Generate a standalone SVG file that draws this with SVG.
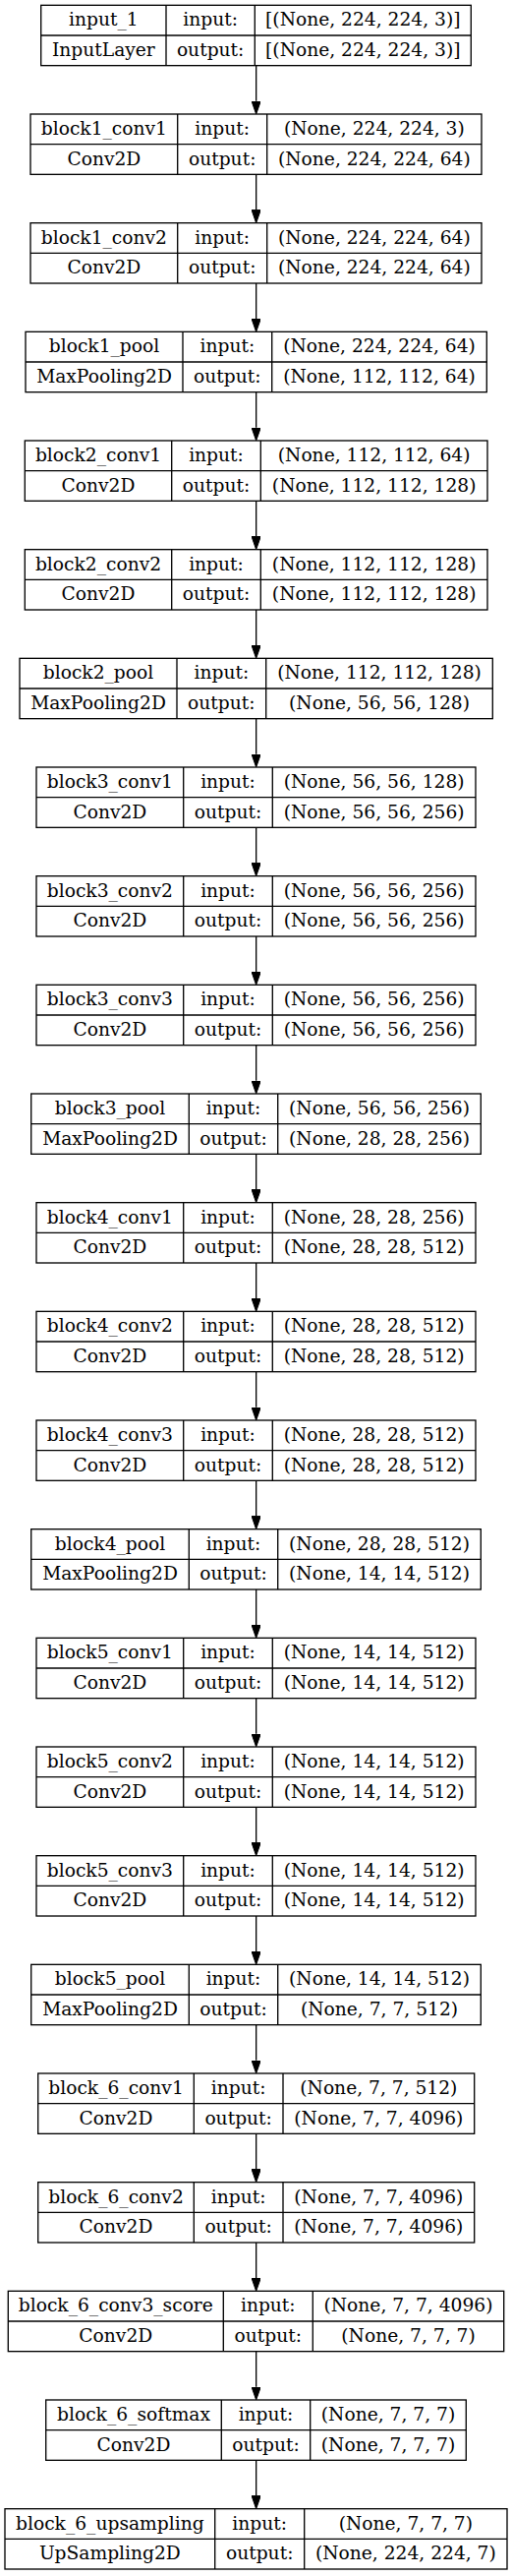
<svg xmlns="http://www.w3.org/2000/svg" width="521" height="2619" viewBox="0 0 521 2619">
<style>
.box{fill:#fff;stroke:#000;stroke-width:1.33}
.div{fill:none;stroke:#000;stroke-width:1.33}
.t{font-family:"DejaVu Serif",serif;font-size:18.67px;text-anchor:middle;fill:#000}
.edge{stroke:#000;stroke-width:1.33;fill:none}
</style>
<defs>
<marker id="ah" viewBox="0 0 13.33 9.33" refX="0" refY="4.67" markerWidth="13.33" markerHeight="9.33" markerUnits="userSpaceOnUse" orient="auto">
<path d="M0,0 L13.33,4.67 L0,9.33 z" fill="#000" stroke="#000" stroke-width="1"/>
</marker>
</defs>
<rect x="0" y="0" width="521" height="2619" fill="#fff"/>
<g id="connectors">
<line class="edge" x1="260.67" y1="66.67" x2="260.67" y2="102.67" marker-end="url(#ah)"/>
<line class="edge" x1="260.67" y1="177.33" x2="260.67" y2="213.33" marker-end="url(#ah)"/>
<line class="edge" x1="260.67" y1="288" x2="260.67" y2="324" marker-end="url(#ah)"/>
<line class="edge" x1="260.67" y1="398.67" x2="260.67" y2="434.67" marker-end="url(#ah)"/>
<line class="edge" x1="260.67" y1="509.33" x2="260.67" y2="545.33" marker-end="url(#ah)"/>
<line class="edge" x1="260.67" y1="620" x2="260.67" y2="656" marker-end="url(#ah)"/>
<line class="edge" x1="260.67" y1="730.67" x2="260.67" y2="766.67" marker-end="url(#ah)"/>
<line class="edge" x1="260.67" y1="841.33" x2="260.67" y2="877.33" marker-end="url(#ah)"/>
<line class="edge" x1="260.67" y1="952" x2="260.67" y2="988" marker-end="url(#ah)"/>
<line class="edge" x1="260.67" y1="1062.67" x2="260.67" y2="1098.67" marker-end="url(#ah)"/>
<line class="edge" x1="260.67" y1="1173.33" x2="260.67" y2="1209.33" marker-end="url(#ah)"/>
<line class="edge" x1="260.67" y1="1284" x2="260.67" y2="1320" marker-end="url(#ah)"/>
<line class="edge" x1="260.67" y1="1394.67" x2="260.67" y2="1430.67" marker-end="url(#ah)"/>
<line class="edge" x1="260.67" y1="1505.33" x2="260.67" y2="1541.33" marker-end="url(#ah)"/>
<line class="edge" x1="260.67" y1="1616" x2="260.67" y2="1652" marker-end="url(#ah)"/>
<line class="edge" x1="260.67" y1="1726.67" x2="260.67" y2="1762.67" marker-end="url(#ah)"/>
<line class="edge" x1="260.67" y1="1837.33" x2="260.67" y2="1873.33" marker-end="url(#ah)"/>
<line class="edge" x1="260.67" y1="1948" x2="260.67" y2="1984" marker-end="url(#ah)"/>
<line class="edge" x1="260.67" y1="2058.67" x2="260.67" y2="2094.67" marker-end="url(#ah)"/>
<line class="edge" x1="260.67" y1="2169.33" x2="260.67" y2="2205.33" marker-end="url(#ah)"/>
<line class="edge" x1="260.67" y1="2280" x2="260.67" y2="2316" marker-end="url(#ah)"/>
<line class="edge" x1="260.67" y1="2390.67" x2="260.67" y2="2426.67" marker-end="url(#ah)"/>
<line class="edge" x1="260.67" y1="2501.33" x2="260.67" y2="2537.33" marker-end="url(#ah)"/>
</g>

<g id="input_1" transform="translate(0,5.33)">
<rect class="box" x="41.7" y="0" width="437.6" height="61.33"/>
<path class="div" d="M169,0V61.33M259.3,0V61.33M41.7,30.67H479.3"/>
<text class="t" x="105.35" y="21">input_1</text><text class="t" x="214.15" y="21">input:</text><text class="t" x="369.3" y="21">[(None, 224, 224, 3)]</text>
<text class="t" x="105.35" y="51.67">InputLayer</text><text class="t" x="214.15" y="51.67">output:</text><text class="t" x="369.3" y="51.67">[(None, 224, 224, 3)]</text>
</g>

<g id="block1_conv1" transform="translate(0,116)">
<rect class="box" x="31" y="0" width="459" height="61.33"/>
<path class="div" d="M180.7,0V61.33M271.7,0V61.33M31,30.67H490"/>
<text class="t" x="105.85" y="21">block1_conv1</text><text class="t" x="226.2" y="21">input:</text><text class="t" x="380.85" y="21">(None, 224, 224, 3)</text>
<text class="t" x="105.85" y="51.67">Conv2D</text><text class="t" x="226.2" y="51.67">output:</text><text class="t" x="380.85" y="51.67">(None, 224, 224, 64)</text>
</g>

<g id="block1_conv2" transform="translate(0,226.67)">
<rect class="box" x="31" y="0" width="459" height="61.33"/>
<path class="div" d="M180.7,0V61.33M271.7,0V61.33M31,30.67H490"/>
<text class="t" x="105.85" y="21">block1_conv2</text><text class="t" x="226.2" y="21">input:</text><text class="t" x="380.85" y="21">(None, 224, 224, 64)</text>
<text class="t" x="105.85" y="51.67">Conv2D</text><text class="t" x="226.2" y="51.67">output:</text><text class="t" x="380.85" y="51.67">(None, 224, 224, 64)</text>
</g>

<g id="block1_pool" transform="translate(0,337.33)">
<rect class="box" x="26" y="0" width="469.3" height="61.33"/>
<path class="div" d="M186,0V61.33M276.7,0V61.33M26,30.67H495.3"/>
<text class="t" x="106" y="21">block1_pool</text><text class="t" x="231.35" y="21">input:</text><text class="t" x="386" y="21">(None, 224, 224, 64)</text>
<text class="t" x="106" y="51.67">MaxPooling2D</text><text class="t" x="231.35" y="51.67">output:</text><text class="t" x="386" y="51.67">(None, 112, 112, 64)</text>
</g>

<g id="block2_conv1" transform="translate(0,448)">
<rect class="box" x="25.3" y="0" width="470.7" height="61.33"/>
<path class="div" d="M174.7,0V61.33M265.3,0V61.33M25.3,30.67H496"/>
<text class="t" x="100" y="21">block2_conv1</text><text class="t" x="220" y="21">input:</text><text class="t" x="380.65" y="21">(None, 112, 112, 64)</text>
<text class="t" x="100" y="51.67">Conv2D</text><text class="t" x="220" y="51.67">output:</text><text class="t" x="380.65" y="51.67">(None, 112, 112, 128)</text>
</g>

<g id="block2_conv2" transform="translate(0,558.67)">
<rect class="box" x="25.3" y="0" width="470.7" height="61.33"/>
<path class="div" d="M174.7,0V61.33M265.3,0V61.33M25.3,30.67H496"/>
<text class="t" x="100" y="21">block2_conv2</text><text class="t" x="220" y="21">input:</text><text class="t" x="380.65" y="21">(None, 112, 112, 128)</text>
<text class="t" x="100" y="51.67">Conv2D</text><text class="t" x="220" y="51.67">output:</text><text class="t" x="380.65" y="51.67">(None, 112, 112, 128)</text>
</g>

<g id="block2_pool" transform="translate(0,669.33)">
<rect class="box" x="20" y="0" width="481.3" height="61.33"/>
<path class="div" d="M180,0V61.33M270.7,0V61.33M20,30.67H501.3"/>
<text class="t" x="100" y="21">block2_pool</text><text class="t" x="225.35" y="21">input:</text><text class="t" x="386" y="21">(None, 112, 112, 128)</text>
<text class="t" x="100" y="51.67">MaxPooling2D</text><text class="t" x="225.35" y="51.67">output:</text><text class="t" x="386" y="51.67">(None, 56, 56, 128)</text>
</g>

<g id="block3_conv1" transform="translate(0,780)">
<rect class="box" x="37" y="0" width="447" height="61.33"/>
<path class="div" d="M186.7,0V61.33M277.3,0V61.33M37,30.67H484"/>
<text class="t" x="111.85" y="21">block3_conv1</text><text class="t" x="232" y="21">input:</text><text class="t" x="380.65" y="21">(None, 56, 56, 128)</text>
<text class="t" x="111.85" y="51.67">Conv2D</text><text class="t" x="232" y="51.67">output:</text><text class="t" x="380.65" y="51.67">(None, 56, 56, 256)</text>
</g>

<g id="block3_conv2" transform="translate(0,890.67)">
<rect class="box" x="37" y="0" width="447" height="61.33"/>
<path class="div" d="M186.7,0V61.33M277.3,0V61.33M37,30.67H484"/>
<text class="t" x="111.85" y="21">block3_conv2</text><text class="t" x="232" y="21">input:</text><text class="t" x="380.65" y="21">(None, 56, 56, 256)</text>
<text class="t" x="111.85" y="51.67">Conv2D</text><text class="t" x="232" y="51.67">output:</text><text class="t" x="380.65" y="51.67">(None, 56, 56, 256)</text>
</g>

<g id="block3_conv3" transform="translate(0,1001.33)">
<rect class="box" x="37" y="0" width="447" height="61.33"/>
<path class="div" d="M186.7,0V61.33M277.3,0V61.33M37,30.67H484"/>
<text class="t" x="111.85" y="21">block3_conv3</text><text class="t" x="232" y="21">input:</text><text class="t" x="380.65" y="21">(None, 56, 56, 256)</text>
<text class="t" x="111.85" y="51.67">Conv2D</text><text class="t" x="232" y="51.67">output:</text><text class="t" x="380.65" y="51.67">(None, 56, 56, 256)</text>
</g>

<g id="block3_pool" transform="translate(0,1112)">
<rect class="box" x="31.7" y="0" width="457.6" height="61.33"/>
<path class="div" d="M192.3,0V61.33M282.7,0V61.33M31.7,30.67H489.3"/>
<text class="t" x="112" y="21">block3_pool</text><text class="t" x="237.5" y="21">input:</text><text class="t" x="386" y="21">(None, 56, 56, 256)</text>
<text class="t" x="112" y="51.67">MaxPooling2D</text><text class="t" x="237.5" y="51.67">output:</text><text class="t" x="386" y="51.67">(None, 28, 28, 256)</text>
</g>

<g id="block4_conv1" transform="translate(0,1222.67)">
<rect class="box" x="37" y="0" width="447" height="61.33"/>
<path class="div" d="M186.7,0V61.33M277.3,0V61.33M37,30.67H484"/>
<text class="t" x="111.85" y="21">block4_conv1</text><text class="t" x="232" y="21">input:</text><text class="t" x="380.65" y="21">(None, 28, 28, 256)</text>
<text class="t" x="111.85" y="51.67">Conv2D</text><text class="t" x="232" y="51.67">output:</text><text class="t" x="380.65" y="51.67">(None, 28, 28, 512)</text>
</g>

<g id="block4_conv2" transform="translate(0,1333.33)">
<rect class="box" x="37" y="0" width="447" height="61.33"/>
<path class="div" d="M186.7,0V61.33M277.3,0V61.33M37,30.67H484"/>
<text class="t" x="111.85" y="21">block4_conv2</text><text class="t" x="232" y="21">input:</text><text class="t" x="380.65" y="21">(None, 28, 28, 512)</text>
<text class="t" x="111.85" y="51.67">Conv2D</text><text class="t" x="232" y="51.67">output:</text><text class="t" x="380.65" y="51.67">(None, 28, 28, 512)</text>
</g>

<g id="block4_conv3" transform="translate(0,1444)">
<rect class="box" x="37" y="0" width="447" height="61.33"/>
<path class="div" d="M186.7,0V61.33M277.3,0V61.33M37,30.67H484"/>
<text class="t" x="111.85" y="21">block4_conv3</text><text class="t" x="232" y="21">input:</text><text class="t" x="380.65" y="21">(None, 28, 28, 512)</text>
<text class="t" x="111.85" y="51.67">Conv2D</text><text class="t" x="232" y="51.67">output:</text><text class="t" x="380.65" y="51.67">(None, 28, 28, 512)</text>
</g>

<g id="block4_pool" transform="translate(0,1554.67)">
<rect class="box" x="31.7" y="0" width="457.6" height="61.33"/>
<path class="div" d="M192.3,0V61.33M282.7,0V61.33M31.7,30.67H489.3"/>
<text class="t" x="112" y="21">block4_pool</text><text class="t" x="237.5" y="21">input:</text><text class="t" x="386" y="21">(None, 28, 28, 512)</text>
<text class="t" x="112" y="51.67">MaxPooling2D</text><text class="t" x="237.5" y="51.67">output:</text><text class="t" x="386" y="51.67">(None, 14, 14, 512)</text>
</g>

<g id="block5_conv1" transform="translate(0,1665.33)">
<rect class="box" x="37" y="0" width="447" height="61.33"/>
<path class="div" d="M186.7,0V61.33M277.3,0V61.33M37,30.67H484"/>
<text class="t" x="111.85" y="21">block5_conv1</text><text class="t" x="232" y="21">input:</text><text class="t" x="380.65" y="21">(None, 14, 14, 512)</text>
<text class="t" x="111.85" y="51.67">Conv2D</text><text class="t" x="232" y="51.67">output:</text><text class="t" x="380.65" y="51.67">(None, 14, 14, 512)</text>
</g>

<g id="block5_conv2" transform="translate(0,1776)">
<rect class="box" x="37" y="0" width="447" height="61.33"/>
<path class="div" d="M186.7,0V61.33M277.3,0V61.33M37,30.67H484"/>
<text class="t" x="111.85" y="21">block5_conv2</text><text class="t" x="232" y="21">input:</text><text class="t" x="380.65" y="21">(None, 14, 14, 512)</text>
<text class="t" x="111.85" y="51.67">Conv2D</text><text class="t" x="232" y="51.67">output:</text><text class="t" x="380.65" y="51.67">(None, 14, 14, 512)</text>
</g>

<g id="block5_conv3" transform="translate(0,1886.67)">
<rect class="box" x="37" y="0" width="447" height="61.33"/>
<path class="div" d="M186.7,0V61.33M277.3,0V61.33M37,30.67H484"/>
<text class="t" x="111.85" y="21">block5_conv3</text><text class="t" x="232" y="21">input:</text><text class="t" x="380.65" y="21">(None, 14, 14, 512)</text>
<text class="t" x="111.85" y="51.67">Conv2D</text><text class="t" x="232" y="51.67">output:</text><text class="t" x="380.65" y="51.67">(None, 14, 14, 512)</text>
</g>

<g id="block5_pool" transform="translate(0,1997.33)">
<rect class="box" x="31.7" y="0" width="457.6" height="61.33"/>
<path class="div" d="M192.3,0V61.33M282.7,0V61.33M31.7,30.67H489.3"/>
<text class="t" x="112" y="21">block5_pool</text><text class="t" x="237.5" y="21">input:</text><text class="t" x="386" y="21">(None, 14, 14, 512)</text>
<text class="t" x="112" y="51.67">MaxPooling2D</text><text class="t" x="237.5" y="51.67">output:</text><text class="t" x="386" y="51.67">(None, 7, 7, 512)</text>
</g>

<g id="block_6_conv1" transform="translate(0,2108)">
<rect class="box" x="38.7" y="0" width="444" height="61.33"/>
<path class="div" d="M197.3,0V61.33M288,0V61.33M38.7,30.67H482.7"/>
<text class="t" x="118" y="21">block_6_conv1</text><text class="t" x="242.65" y="21">input:</text><text class="t" x="385.35" y="21">(None, 7, 7, 512)</text>
<text class="t" x="118" y="51.67">Conv2D</text><text class="t" x="242.65" y="51.67">output:</text><text class="t" x="385.35" y="51.67">(None, 7, 7, 4096)</text>
</g>

<g id="block_6_conv2" transform="translate(0,2218.67)">
<rect class="box" x="38.7" y="0" width="444" height="61.33"/>
<path class="div" d="M197.3,0V61.33M288,0V61.33M38.7,30.67H482.7"/>
<text class="t" x="118" y="21">block_6_conv2</text><text class="t" x="242.65" y="21">input:</text><text class="t" x="385.35" y="21">(None, 7, 7, 4096)</text>
<text class="t" x="118" y="51.67">Conv2D</text><text class="t" x="242.65" y="51.67">output:</text><text class="t" x="385.35" y="51.67">(None, 7, 7, 4096)</text>
</g>

<g id="block_6_conv3_score" transform="translate(0,2329.33)">
<rect class="box" x="8.3" y="0" width="504.4" height="61.33"/>
<path class="div" d="M227.3,0V61.33M318.3,0V61.33M8.3,30.67H512.7"/>
<text class="t" x="117.8" y="21">block_6_conv3_score</text><text class="t" x="272.8" y="21">input:</text><text class="t" x="415.5" y="21">(None, 7, 7, 4096)</text>
<text class="t" x="117.8" y="51.67">Conv2D</text><text class="t" x="272.8" y="51.67">output:</text><text class="t" x="415.5" y="51.67">(None, 7, 7, 7)</text>
</g>

<g id="block_6_softmax" transform="translate(0,2440)">
<rect class="box" x="46.7" y="0" width="427.6" height="61.33"/>
<path class="div" d="M225.3,0V61.33M315.7,0V61.33M46.7,30.67H474.3"/>
<text class="t" x="136" y="21">block_6_softmax</text><text class="t" x="270.5" y="21">input:</text><text class="t" x="395" y="21">(None, 7, 7, 7)</text>
<text class="t" x="136" y="51.67">Conv2D</text><text class="t" x="270.5" y="51.67">output:</text><text class="t" x="395" y="51.67">(None, 7, 7, 7)</text>
</g>

<g id="block_6_upsampling" transform="translate(0,2550.67)">
<rect class="box" x="5" y="0" width="511" height="61.33"/>
<path class="div" d="M218.7,0V61.33M309.7,0V61.33M5,30.67H516"/>
<text class="t" x="111.85" y="21">block_6_upsampling</text><text class="t" x="264.2" y="21">input:</text><text class="t" x="412.85" y="21">(None, 7, 7, 7)</text>
<text class="t" x="111.85" y="51.67">UpSampling2D</text><text class="t" x="264.2" y="51.67">output:</text><text class="t" x="412.85" y="51.67">(None, 224, 224, 7)</text>
</g>
</svg>
